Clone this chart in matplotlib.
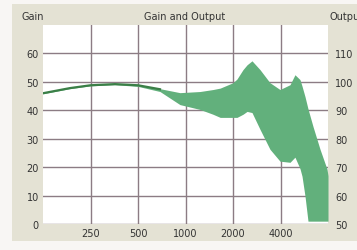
import matplotlib
matplotlib.use("Agg")
import matplotlib.pyplot as plt
from matplotlib.patches import Rectangle
import numpy as np

# band of gain values (dB) vs frequency (Hz)
freqs = [125, 185, 250, 357, 500, 689, 922, 1235, 1494, 1659, 2000, 2120,
         2314, 2455, 2639, 2966, 3429, 3970, 4596, 4939, 5315, 5477, 5720,
         5975, 6428, 7121, 7886, 8000]
upper = [46.2, 48.0, 49.0, 49.4, 49.0, 47.6, 46.2, 46.6, 47.3, 47.8, 49.7, 51.0,
         54.3, 56.0, 57.4, 54.3, 49.7, 47.3, 49.0, 52.5, 50.8, 48.5, 44.8,
         40.5, 34.3, 26.3, 19.3, 17.0]
lower = [45.8, 47.6, 48.6, 49.0, 48.4, 46.6, 42.0, 40.3, 38.6, 37.5, 37.5, 37.5,
         38.6, 39.6, 39.2, 33.3, 26.3, 22.1, 21.7, 23.5, 19.5, 16.8, 9.8,
         1.0, 1.0, 1.0, 1.0, 1.0]

x_ticks = [250, 500, 1000, 2000, 4000]
gain_ticks = [0, 10, 20, 30, 40, 50, 60]
output_ticks = [50, 60, 70, 80, 90, 100, 110]

panel = "#e4e2d4"
grid_c = "#8c7c84"
txt_c = "#333333"

fig = plt.figure(figsize=(3.57, 2.51), dpi=100, facecolor="#f8f6f4")
fig.patches.append(Rectangle((12 / 357, 9 / 251), 1 - 12 / 357, 237 / 251,
                             transform=fig.transFigure, facecolor=panel,
                             edgecolor="none", zorder=-5))

ax = fig.add_axes([43 / 357, 26 / 251, 285 / 357, 199 / 251])
ax.set_facecolor("white")
ax.set_xscale("log", base=2)
ax.set_xlim(125, 8000)
ax.set_ylim(0, 70)

ax.fill_between(freqs, lower, upper, color="#62b07c", linewidth=0, zorder=3)
f = np.array(freqs)
thin = f <= 700
ax.plot(f[thin], np.array(upper)[thin] - 0.2, color="#3b7f47", lw=1.6, zorder=4)

ax.set_xticks(x_ticks)
ax.set_xticklabels([str(t) for t in x_ticks])
ax.xaxis.set_minor_locator(plt.NullLocator())
ax.set_yticks(gain_ticks)
ax.grid(True, color=grid_c, lw=1.0, zorder=1)
ax.set_axisbelow(True)
ax.tick_params(length=0, labelsize=7, colors=txt_c, pad=3)
for s in ax.spines.values():
    s.set_visible(False)

ax2 = ax.twinx()
ax2.set_ylim(50, 120)
ax2.set_yticks(output_ticks)
ax2.tick_params(length=0, labelsize=7, colors=txt_c, pad=5)
for s in ax2.spines.values():
    s.set_visible(False)

fig.text(33 / 357, 1 - 17 / 251, "Gain", ha="center", va="center", fontsize=7, color=txt_c)
fig.text(185 / 357, 1 - 17 / 251, "Gain and Output", ha="center", va="center", fontsize=7, color=txt_c)
fig.text(330 / 357, 1 - 17 / 251, "Output", ha="left", va="center", fontsize=7, color=txt_c)

fig.savefig("out.png", dpi=100, facecolor=fig.get_facecolor())
